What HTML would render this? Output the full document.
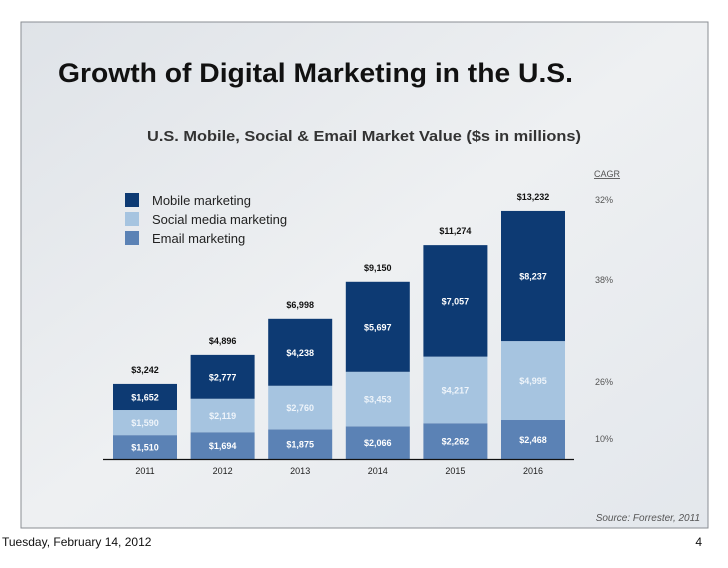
<!DOCTYPE html>
<html><head><meta charset="utf-8"><style>
body{margin:0;background:#fff;width:728px;height:563px;overflow:hidden;font-family:"Liberation Sans",sans-serif}
</style></head><body>
<svg width="728" height="563" xmlns="http://www.w3.org/2000/svg">
<defs><linearGradient id="bg" x1="0" y1="0" x2="1" y2="1"><stop offset="0" stop-color="#dfe3e8"/><stop offset="0.5" stop-color="#eef0f2"/><stop offset="1" stop-color="#e3e7ec"/></linearGradient></defs>
<rect x="21" y="22" width="687" height="506" fill="url(#bg)" stroke="#8a8e93" stroke-width="1"/>
<text x="58" y="82" font-size="27" font-weight="bold" fill="#111" textLength="515" lengthAdjust="spacingAndGlyphs">Growth of Digital Marketing in the U.S.</text>
<text x="147" y="141" font-size="15" font-weight="bold" fill="#333" textLength="434" lengthAdjust="spacingAndGlyphs">U.S. Mobile, Social &amp; Email Market Value ($s in millions)</text>
<text x="594" y="177" font-size="9" fill="#555" text-decoration="underline">CAGR</text>
<g>
<rect x="125" y="193" width="14" height="14" fill="#0d3a73"/>
<text x="152" y="205" font-size="13" fill="#222">Mobile marketing</text>
<rect x="125" y="212" width="14" height="14" fill="#a6c4e0"/>
<text x="152" y="224" font-size="13" fill="#222">Social media marketing</text>
<rect x="125" y="231" width="14" height="14" fill="#5b82b5"/>
<text x="152" y="243" font-size="13" fill="#222">Email marketing</text>
</g>
<g id="chart"></g>
<line x1="103" y1="459.5" x2="574" y2="459.5" stroke="#111" stroke-width="1.2"/>
<text x="595" y="203" font-size="9" fill="#555">32%</text>
<text x="595" y="283" font-size="9" fill="#555">38%</text>
<text x="595" y="385" font-size="9" fill="#555">26%</text>
<text x="595" y="442" font-size="9" fill="#555">10%</text>
<text x="700" y="521" font-size="10" font-style="italic" fill="#555" text-anchor="end">Source: Forrester, 2011</text>
<text x="2" y="546" font-size="12" fill="#111">Tuesday, February 14, 2012</text>
<text x="702" y="546" font-size="12" fill="#111" text-anchor="end">4</text>
</svg>
<script>
const years=["2011","2012","2013","2014","2015","2016"];
const email=[1510,1694,1875,2066,2262,2468];
const social=[1590,2119,2760,3453,4217,4995];
const mobile=[1652,2777,4238,5697,7057,8237];
const totals=[3242,4896,6998,9150,11274,13232];
const NS="http://www.w3.org/2000/svg";
const g=document.getElementById('chart');
const base=459, k=0.0158, x0=113, step=77.6, bw=64;
const xs=i=>x0+i*step;
const ys=v=>v*k;
const fmt=v=>'$'+v.toLocaleString('en-US');
function el(t,a){const e=document.createElementNS(NS,t);for(const n in a)e.setAttribute(n,a[n]);g.appendChild(e);return e;}
const series=[[email,'#5b82b5','#fff','email'],[social,'#a6c4e0','#eef4fa','social'],[mobile,'#0d3a73','#fff','mobile']];
years.forEach((yr,i)=>{
  let y=base;
  series.forEach(([arr,col,tc,nm])=>{
    const h=ys(arr[i]);y-=h;
    const r=el('rect',{x:xs(i),y:y,width:bw,height:h,fill:col});
    
    
    const t=el('text',{x:xs(i)+bw/2,y:y+h/2+3.5,'font-size':9,'font-weight':'bold',fill:tc,'text-anchor':'middle'});
    t.textContent=fmt(arr[i]);
    
    
  });
  const tt=el('text',{x:xs(i)+bw/2,y:y-11,'font-size':9,'font-weight':'bold',fill:'#111','text-anchor':'middle'});
  tt.textContent=fmt(totals[i]);
  
  
  const yl=el('text',{x:xs(i)+bw/2,y:474,'font-size':9,fill:'#222','text-anchor':'middle'});
  yl.textContent=yr;
  
  
});
</script>
</body></html>
